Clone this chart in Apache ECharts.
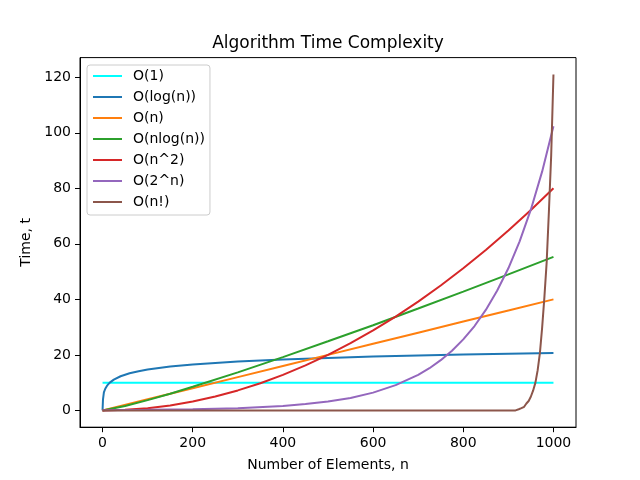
<!DOCTYPE html>
<html>
<head>
<meta charset="utf-8">
<title>Algorithm Time Complexity</title>
<script src="https://cdn.jsdelivr.net/npm/echarts@6/dist/echarts.min.js"></script>
<style>
  html, body { margin: 0; padding: 0; background: #fff; }
  #chart-1 { width: 640px; height: 480px; }
</style>
</head>
<body>
<div id="chart-1"></div>
<script>
// values
var xConst = [0, 1000];
var yConst = [10, 10];

var xLog = [0, 1, 3, 6, 10, 16, 25, 40, 60, 80, 100, 150, 200, 300, 400, 500, 600, 700, 800, 900, 1000];
var yLog = [0, 4.0, 6.5, 7.8, 8.9, 10.0, 11.1, 12.3, 13.4, 14.1, 14.7, 15.8, 16.5, 17.6, 18.3, 18.9, 19.4, 19.8, 20.1, 20.4, 20.7];

var xLin = [0, 100, 200, 300, 400, 500, 600, 700, 800, 900, 1000];
var yLin = [0, 4, 8, 12, 16, 20, 24, 28, 32, 36, 40];

var xNlogN = [0, 50, 100, 150, 200, 300, 400, 500, 600, 700, 800, 900, 1000];
var yNlogN = [0, 1.6, 3.7, 6.0, 8.5, 13.7, 19.2, 24.9, 30.7, 36.7, 42.8, 49.0, 55.3];

var xSq = [0, 50, 100, 150, 200, 250, 300, 350, 400, 450, 500, 550, 600, 650, 700, 750, 800, 850, 900, 950, 1000];
var ySq = [0, 0.2, 0.8, 1.8, 3.2, 5.0, 7.2, 9.8, 12.8, 16.2, 20, 24.2, 28.8, 33.8, 39.2, 45.0, 51.2, 57.8, 64.8, 72.2, 80];

var xExp = [0, 100, 200, 300, 400, 450, 500, 550, 600, 650, 700, 725, 750, 775, 800, 825, 850, 875, 900, 925, 950, 975, 1000];
var yExp = [0.1, 0.2, 0.4, 0.8, 1.6, 2.3, 3.2, 4.5, 6.4, 9.1, 12.8, 15.2, 18.1, 21.5, 25.6, 30.4, 36.2, 43.1, 51.2, 60.9, 72.4, 86.1, 102.4];

var xFact = [0, 916, 917, 923, 924, 929, 930, 935, 936, 940, 945, 950, 955, 960, 965, 970, 975, 980, 985, 990, 995, 1000];
var yFact = [0, 0, 0.4, 0.4, 0.8, 0.8, 1.3, 1.3, 1.9, 2.5, 3.4, 5.0, 7.2, 10, 14.5, 20.7, 30, 41, 53.5, 72, 92, 121];

var names = ["O(1)", "O(log(n))", "O(n)", "O(nlog(n))", "O(n^2)", "O(2^n)", "O(n!)"];
var colors = ["#00ffff", "#1f77b4", "#ff7f0e", "#2ca02c", "#d62728", "#9467bd", "#8c564b"];
var xTicks = [0, 200, 400, 600, 800, 1000];
var yTicks = [0, 20, 40, 60, 80, 100, 120];

function pairs(xs, ys) {
  return xs.map(function (x, i) {
    return [x, ys[i]];
  });
}

var seriesData = [
  pairs(xConst, yConst),
  pairs(xLog, yLog),
  pairs(xLin, yLin),
  pairs(xNlogN, yNlogN),
  pairs(xSq, ySq),
  pairs(xExp, yExp),
  pairs(xFact, yFact),
];

var dom = document.getElementById("chart-1");
var Chart1 = echarts.init(dom, null, { renderer: "canvas" });

var font = "DejaVu Sans";

var option = {
  animation: false,
  backgroundColor: "#fff",
  textStyle: { fontFamily: font, color: "#000" },
  title: {
    text: "Algorithm Time Complexity",
    left: 328,
    top: 35,
    textAlign: "center",
    padding: 0,
    textStyle: { fontFamily: font, fontSize: 17, fontWeight: "normal", color: "#000" },
  },
  legend: {
    orient: "vertical",
    left: 87,
    top: 65,
    padding: [4, 5, 6, 5],
    itemWidth: 29,
    itemHeight: 14,
    itemGap: 7,
    backgroundColor: "rgba(255,255,255,0.8)",
    borderColor: "#cccccc",
    borderWidth: 1,
    borderRadius: 3,
    // hide the marker dot, keep only the line sample
    itemStyle: { opacity: 0 },
    textStyle: { fontFamily: font, fontSize: 14, color: "#000", padding: [0, 0, 0, 6] },
    data: names,
  },
  grid: {
    left: 80,
    right: 64,
    top: 57.6,
    bottom: 52.8,
    show: true,
    borderColor: "#000",
    borderWidth: 1,
    backgroundColor: "transparent",
  },
  xAxis: {
    type: "value",
    min: -50,
    max: 1050,
    name: "Number of Elements, n",
    nameLocation: "middle",
    nameGap: 31,
    nameTextStyle: { fontFamily: font, fontSize: 14, color: "#000" },
    axisLine: { show: true, onZero: false, lineStyle: { color: "#000", width: 1 } },
    axisTick: { show: true, length: 5, customValues: xTicks, lineStyle: { color: "#000" } },
    axisLabel: {
      customValues: xTicks,
      margin: 9,
      fontFamily: font,
      fontSize: 14,
      color: "#000",
      formatter: function (value) {
        return String(value);
      },
    },
    splitLine: { show: false },
  },
  yAxis: {
    type: "value",
    min: -6.05,
    max: 127.1,
    name: "Time, t",
    nameLocation: "middle",
    nameGap: 43,
    nameTextStyle: { fontFamily: font, fontSize: 14, color: "#000" },
    axisLine: { show: true, onZero: false, lineStyle: { color: "#000", width: 1 } },
    axisTick: { show: true, length: 5, customValues: yTicks, lineStyle: { color: "#000" } },
    axisLabel: {
      customValues: yTicks,
      margin: 9,
      fontFamily: font,
      fontSize: 14,
      color: "#000",
      formatter: function (value) {
        return String(value);
      },
    },
    splitLine: { show: false },
  },
  series: names.map(function (name, i) {
    return {
      name: name,
      type: "line",
      data: seriesData[i],
      color: colors[i],
      symbol: "none",
      lineStyle: { width: 2, color: colors[i] },
      emphasis: { disabled: true },
    };
  }),
};

if (option && typeof option === "object") {
  Chart1.setOption(option);
}

window.addEventListener("resize", Chart1.resize);
</script>
</body>
</html>
